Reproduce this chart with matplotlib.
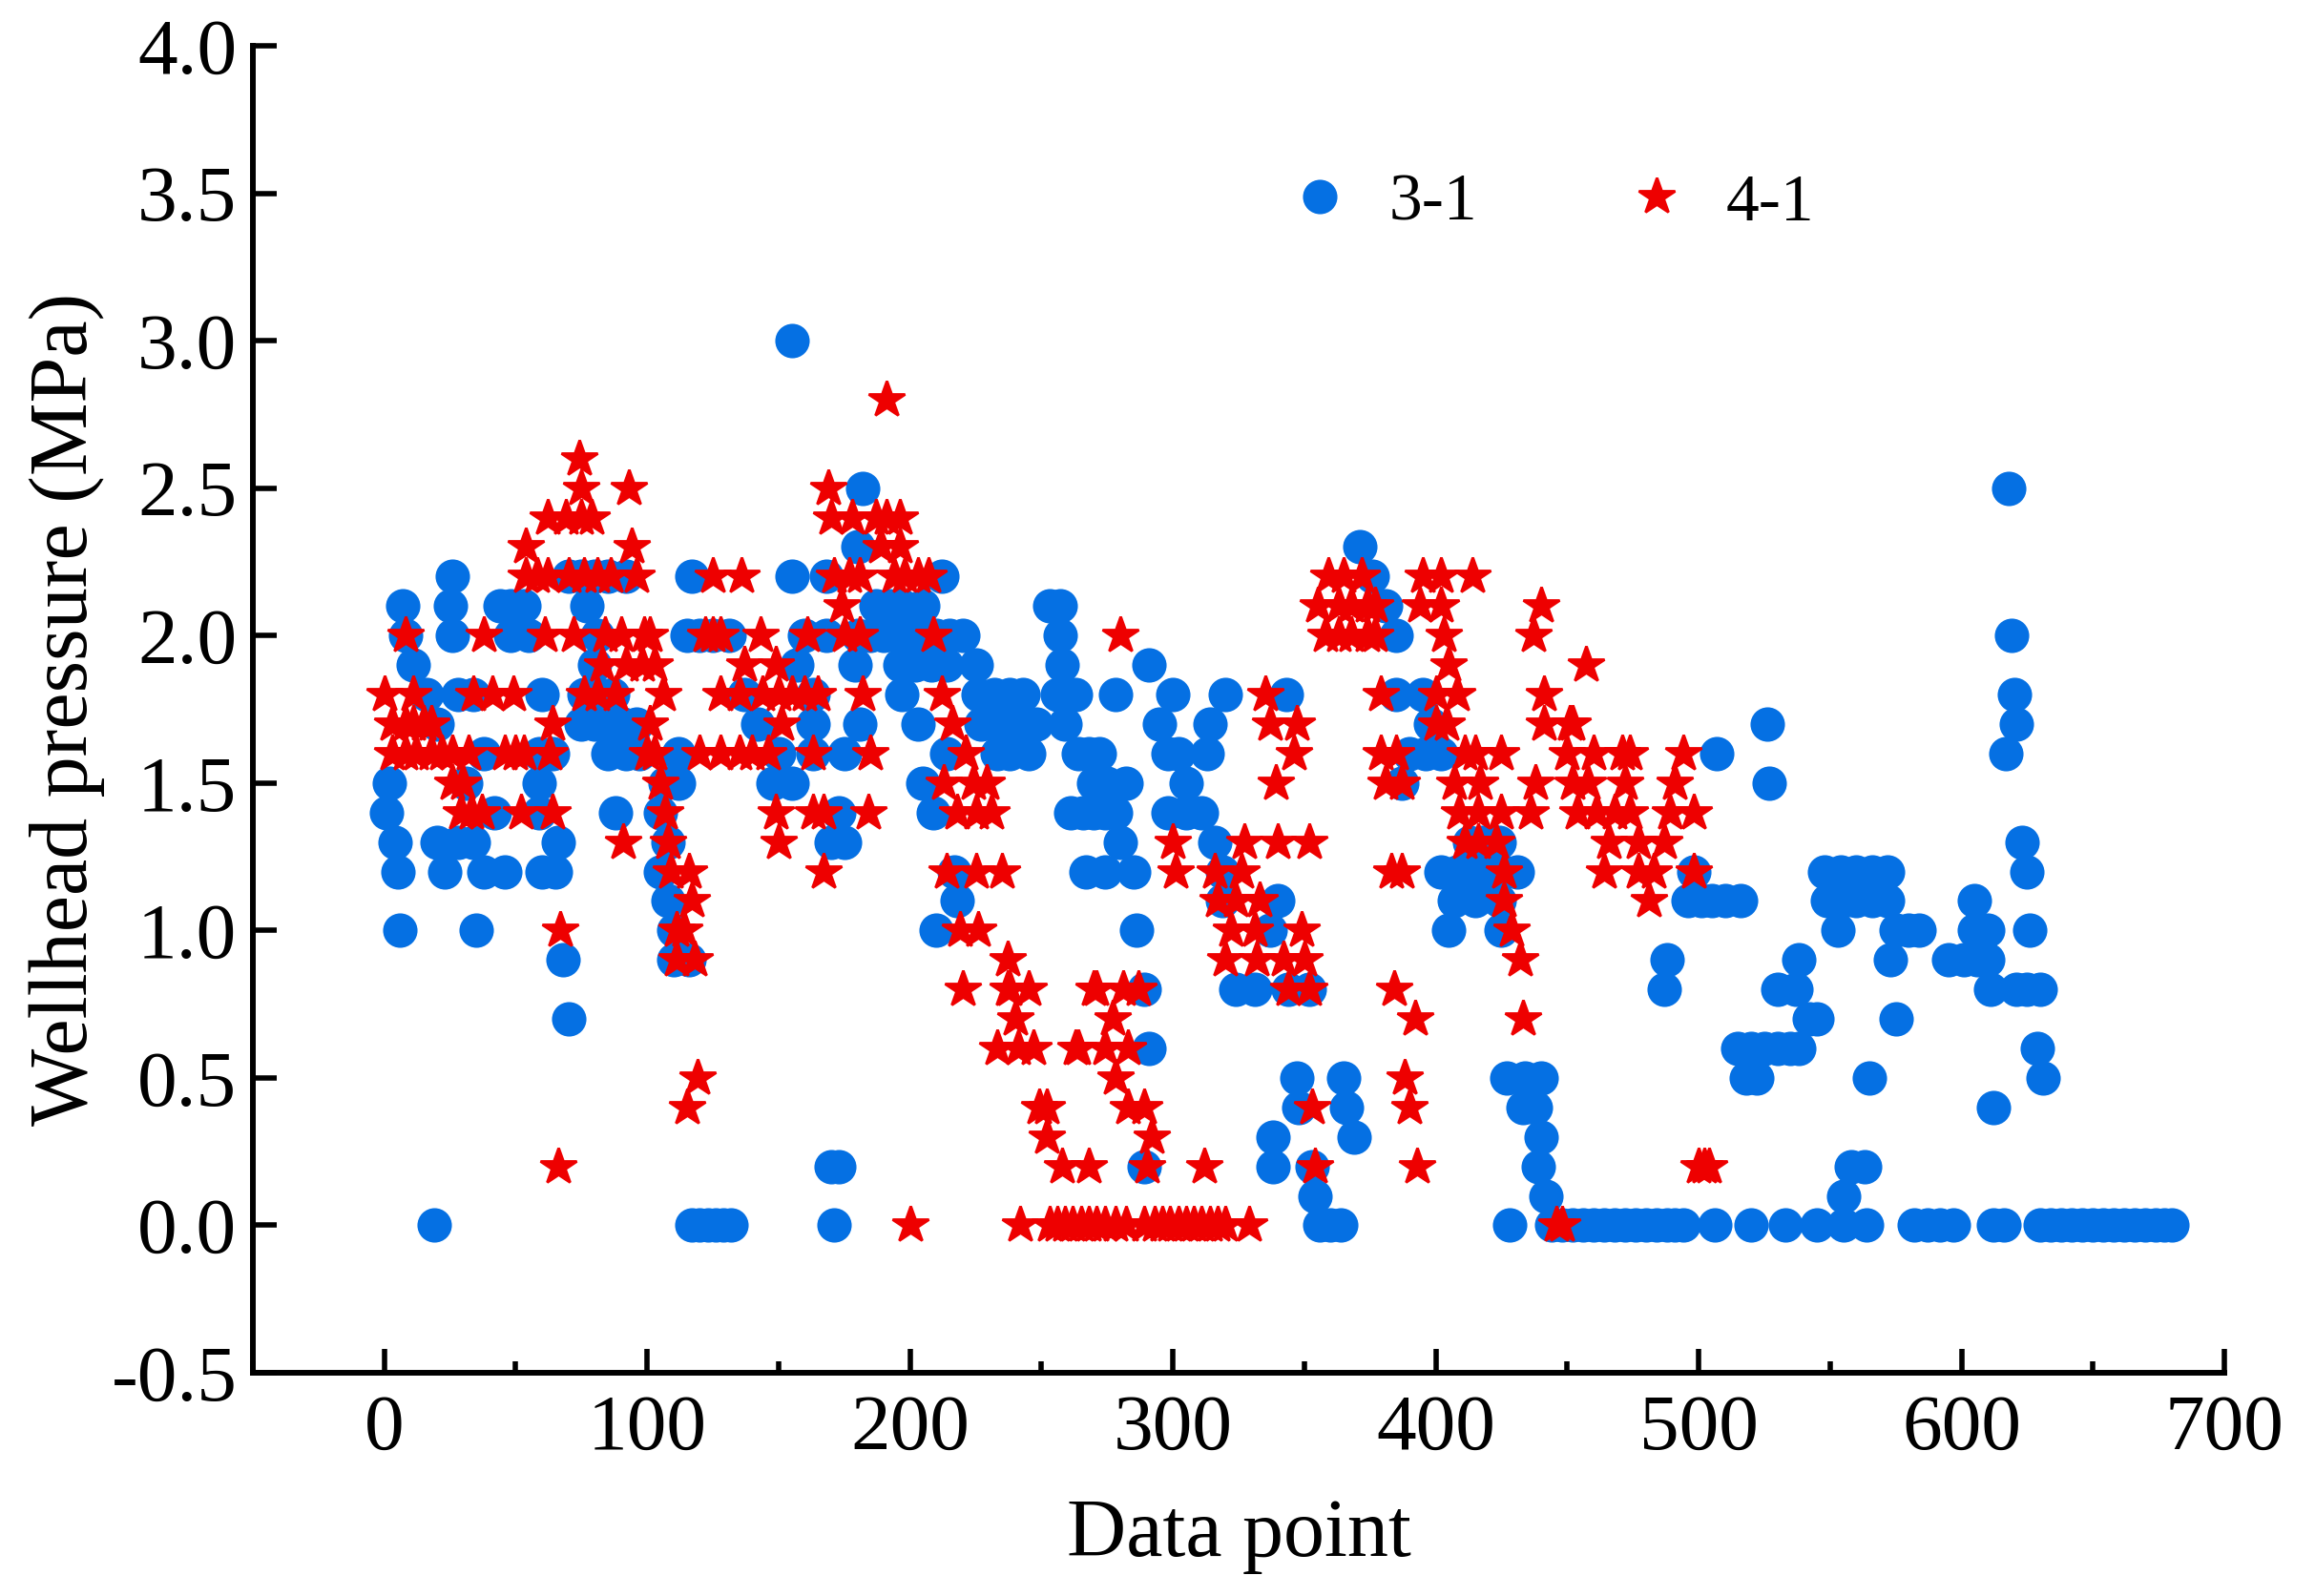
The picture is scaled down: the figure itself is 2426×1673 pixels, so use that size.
import matplotlib
matplotlib.use("Agg")
import matplotlib.pyplot as plt
from matplotlib.ticker import MultipleLocator

plt.rcParams['font.family'] = ['Liberation Serif', 'DejaVu Serif']
plt.rcParams['axes.unicode_minus'] = False

BLUE = "#0570E3"
RED = "#EE0000"

# pressure levels, top to bottom, each with the data points read at that level
levels_31 = [3.0, 2.5, 2.3, 2.2, 2.1, 2.0, 1.9, 1.8, 1.7, 1.6, 1.5, 1.4, 1.3, 1.2, 1.1, 1.0, 0.9, 0.8, 0.7, 0.6, 0.5, 0.4, 0.3, 0.2, 0.1, 0.0]
points_31 = [
    [155],
    [182, 618],
    [180, 371],
    [26, 70, 75, 80, 85, 92, 117, 155, 168, 212, 376],
    [7, 25, 44, 48, 53, 77, 187, 192, 197, 205, 253, 257, 381],
    [8, 26, 48, 55, 81, 115, 120, 125, 131, 160, 168, 180, 185, 190, 195, 200, 205, 210, 215, 220, 257, 385, 619],
    [11, 80, 157, 179, 196, 202, 208, 214, 225, 258, 291],
    [16, 28, 34, 60, 76, 82, 87, 137, 163, 197, 226, 232, 238, 243, 256, 263, 278, 300, 320, 343, 385, 395, 620],
    [20, 75, 80, 86, 91, 96, 142, 163, 181, 203, 227, 232, 238, 243, 248, 259, 295, 314, 398, 526, 621],
    [38, 59, 64, 85, 92, 97, 112, 150, 163, 175, 214, 233, 238, 245, 264, 268, 272, 298, 302, 313, 390, 396, 402, 507, 617],
    [2, 31, 59, 107, 112, 148, 155, 205, 270, 275, 282, 305, 387, 527],
    [1, 42, 59, 88, 105, 173, 209, 261, 266, 270, 274, 278, 298, 305, 311],
    [4, 20, 28, 34, 66, 108, 170, 175, 280, 316, 413, 418, 424, 623],
    [5, 23, 38, 46, 60, 65, 105, 217, 267, 274, 285, 319, 402, 408, 414, 420, 426, 431, 498, 548, 554, 560, 566, 572, 625],
    [108, 218, 319, 340, 407, 415, 424, 496, 501, 505, 510, 516, 549, 555, 560, 566, 572, 605],
    [6, 35, 110, 210, 286, 337, 405, 425, 553, 575, 580, 584, 605, 610, 626],
    [68, 110, 116, 488, 538, 573, 595, 601, 606, 610],
    [289, 324, 331, 344, 352, 487, 530, 537, 611, 621, 625, 630],
    [70, 542, 545, 575],
    [291, 515, 520, 525, 530, 535, 538, 629],
    [347, 365, 427, 434, 440, 518, 522, 565, 631],
    [348, 366, 433, 438, 612],
    [338, 369, 440],
    [170, 173, 289, 338, 353, 439, 558, 563],
    [354, 442, 555],
    [19, 117, 120, 123, 126, 129, 132, 171, 356, 360, 364, 428, 444, 448, 452, 456, 460, 464, 468, 472, 476, 480, 484, 488, 491, 494, 506, 520, 533, 545, 555, 564,
     582, 587, 592, 597, 612, 616, 630, 634, 638, 642, 646, 650, 654, 658, 662, 666, 670, 674, 677, 680],
]

levels_41 = [2.8, 2.6, 2.5, 2.4, 2.3, 2.2, 2.1, 2.0, 1.9, 1.8, 1.7, 1.6, 1.5, 1.4, 1.3, 1.2, 1.1, 1.0, 0.9, 0.8, 0.7, 0.6, 0.5, 0.4, 0.3, 0.2, 0.0]
points_41 = [
    [191],
    [74],
    [75, 93, 169],
    [62, 69, 75, 79, 170, 178, 187, 191, 196],
    [54, 94, 189, 196],
    [54, 58, 62, 70, 76, 81, 86, 96, 125, 136, 171, 177, 181, 194, 198, 203, 207, 359, 365, 372, 395, 402, 414],
    [174, 355, 363, 368, 374, 377, 394, 402, 440],
    [8, 38, 61, 72, 84, 90, 99, 101, 122, 125, 128, 143, 161, 175, 181, 209, 280, 358, 363, 368, 374, 377, 403, 437],
    [83, 92, 98, 103, 137, 149, 405, 457],
    [0, 11, 34, 41, 49, 76, 81, 88, 106, 128, 135, 144, 150, 155, 160, 165, 182, 212, 335, 379, 400, 408, 441],
    [3, 8, 11, 15, 18, 64, 101, 151, 216, 337, 347, 400, 404, 441, 451, 452],
    [3, 8, 12, 18, 22, 26, 32, 46, 50, 53, 63, 100, 103, 120, 128, 135, 140, 146, 163, 185, 221, 346, 379, 385, 411, 415, 425, 450, 460, 471, 474, 494],
    [26, 30, 105, 213, 224, 229, 339, 381, 387, 407, 417, 438, 452, 458, 472, 491],
    [29, 33, 37, 52, 64, 107, 149, 163, 167, 184, 218, 225, 231, 409, 416, 425, 436, 454, 461, 468, 474, 489, 498],
    [91, 108, 150, 300, 327, 340, 352, 411, 416, 423, 466, 477, 487],
    [109, 116, 167, 214, 225, 235, 301, 316, 326, 383, 387, 426, 464, 477, 483, 498],
    [117, 317, 324, 333, 426, 481],
    [67, 111, 114, 219, 226, 322, 331, 349, 429],
    [111, 118, 237, 320, 332, 342, 350, 432],
    [220, 237, 238, 245, 270, 271, 281, 287, 344, 352, 384],
    [240, 277, 392, 433],
    [233, 241, 247, 263, 264, 274, 283],
    [119, 278, 388],
    [115, 249, 252, 283, 289, 353, 390],
    [252, 292],
    [66, 258, 268, 290, 312, 354, 393, 500, 502, 504],
    [200, 242, 253, 256, 259, 262, 265, 268, 271, 274, 278, 282, 289, 293, 296, 299, 302, 305, 308, 311, 314, 317, 320, 329, 446, 448],
]

x_ticks = [0, 100, 200, 300, 400, 500, 600, 700]
y_ticks = [-0.5, 0.0, 0.5, 1.0, 1.5, 2.0, 2.5, 3.0, 3.5, 4.0]


def flatten(levels, points):
    xs, ys = [], []
    for level, row in zip(levels, points):
        xs.extend(row)
        ys.extend([level] * len(row))
    return xs, ys


fig = plt.figure(figsize=(24.26, 16.73), dpi=100)
ax = fig.add_axes([265 / 2426, 1 - 1439 / 1673, (2331 - 265) / 2426, (1439 - 48) / 1673])

x31, y31 = flatten(levels_31, points_31)
x41, y41 = flatten(levels_41, points_41)
ax.plot(x31, y31, linestyle="none", marker="o", markersize=26, markeredgewidth=0, color=BLUE, label="3-1")
ax.plot(x41, y41, linestyle="none", marker="*", markersize=29, markeredgewidth=2, color=RED, label="4-1")

ax.set_xlim(-50, 700)
ax.set_ylim(-0.5, 4.0)
ax.set_xticks(x_ticks)
ax.set_yticks(y_ticks)
ax.set_yticklabels([f"{v:.1f}" for v in y_ticks])
ax.xaxis.set_minor_locator(MultipleLocator(50))

ax.spines["top"].set_visible(False)
ax.spines["right"].set_visible(False)
ax.spines["left"].set_linewidth(4.3)
ax.spines["bottom"].set_linewidth(4.3)
ax.tick_params(axis="both", which="major", direction="in", length=18, width=4, labelsize=60)
ax.tick_params(axis="x", which="major", pad=16)
ax.tick_params(axis="y", which="major", pad=12)
ax.tick_params(axis="x", which="minor", direction="in", length=8.5, width=4)

ax.set_xlabel("Data point", fontsize=62, labelpad=24)
ax.set_ylabel("Wellhead pressure (MPa)", fontsize=62, labelpad=5)

ax.legend(loc="center", bbox_to_anchor=(1625 / 2426, 1 - 214 / 1673), bbox_transform=fig.transFigure,
          ncol=2, frameon=False, fontsize=50, handletextpad=0.55, columnspacing=2.2, handlelength=1.0, numpoints=1)

fig.savefig("out.png", dpi=100)
